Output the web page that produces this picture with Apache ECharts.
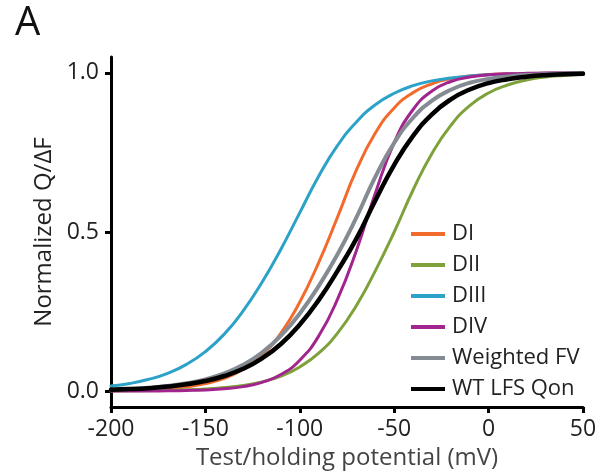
<!DOCTYPE html>
<html>
<head>
<meta charset="utf-8">
<script src="https://cdn.jsdelivr.net/npm/echarts@6/dist/echarts.min.js"></script>
<style>
  html, body { margin: 0; padding: 0; background: #fff; }
  #chart { width: 604px; height: 472px; }
</style>
</head>
<body>
<div id="chart"></div>
<script>
// Membrane potential (mV), sampled every 10 mV
const voltages = [-200, -190, -180, -170, -160, -150, -140, -130, -120, -110, -100, -90, -80,
                  -70, -60, -50, -40, -30, -20, -10, 0, 10, 20, 30, 40, 50];

// Normalized Q/ΔF at each voltage
const dI = [0.0015, 0.0026, 0.0045, 0.0079, 0.0137, 0.0236, 0.0404, 0.0684, 0.1135, 0.182, 0.280, 0.404,
            0.547, 0.695, 0.811, 0.890, 0.938, 0.966, 0.982, 0.990, 0.995, 0.997, 0.9985, 0.9992, 0.9996, 0.9998];
const dII = [0.0006, 0.0009, 0.0015, 0.0025, 0.0041, 0.0067, 0.011, 0.018, 0.029, 0.047, 0.076, 0.119, 0.182,
             0.269, 0.378, 0.5, 0.632, 0.747, 0.835, 0.897, 0.937, 0.962, 0.978, 0.987, 0.992, 0.9955];
const dIII = [0.016, 0.024, 0.037, 0.056, 0.084, 0.124, 0.179, 0.252, 0.342, 0.446, 0.561, 0.675, 0.772,
              0.846, 0.900, 0.936, 0.960, 0.975, 0.984, 0.990, 0.994, 0.996, 0.998, 0.9986, 0.9992, 0.9995];
const dIV = [0.0001, 0.0003, 0.0005, 0.001, 0.002, 0.0038, 0.0074, 0.014, 0.0275, 0.052, 0.097, 0.173, 0.289,
             0.442, 0.622, 0.781, 0.885, 0.943, 0.973, 0.987, 0.994, 0.997, 0.9987, 0.9994, 0.9997, 0.9999];
const weightedFV = [0.0046, 0.0069, 0.0106, 0.0161, 0.0245, 0.037, 0.0555, 0.0825, 0.121, 0.174, 0.244, 0.330, 0.430,
                    0.546, 0.673, 0.780, 0.859, 0.913, 0.947, 0.969, 0.981, 0.989, 0.994, 0.996, 0.998, 0.9987];
const wtLfsQon = [0.0041, 0.0062, 0.0093, 0.0141, 0.0212, 0.0318, 0.0474, 0.070, 0.103, 0.148, 0.209, 0.286, 0.378,
                  0.479, 0.599, 0.711, 0.802, 0.870, 0.917, 0.948, 0.968, 0.980, 0.988, 0.993, 0.9955, 0.9973];

const xTicks = [-200, -150, -100, -50, 0, 50];
const yTicks = [0, 0.5, 1.0];

const seriesDefs = [
  { name: 'DI', values: dI, color: '#F26B2D', width: 3 },
  { name: 'DII', values: dII, color: '#7EA13B', width: 3 },
  { name: 'DIII', values: dIII, color: '#2CA2C8', width: 3 },
  { name: 'DIV', values: dIV, color: '#A2248E', width: 3 },
  { name: 'Weighted FV', values: weightedFV, color: '#858B92', width: 4 },
  { name: 'WT LFS Qon', values: wtLfsQon, color: '#000000', width: 4.5 }
];

const FONT = 'Open Sans';

const chart = echarts.init(document.getElementById('chart'), null, { renderer: 'canvas' });

chart.setOption({
  animation: false,
  backgroundColor: '#ffffff',
  title: {
    text: 'A',
    left: 10,
    top: -1,
    textStyle: { fontFamily: FONT, fontSize: 40, fontWeight: 'normal', color: '#111' }
  },
  grid: { left: 111, right: 21, top: 57, bottom: 65, containLabel: false, outerBoundsMode: 'none' },
  legend: {
    orient: 'vertical',
    left: 406,
    top: 218,
    icon: 'rect',
    itemWidth: 34,
    itemHeight: 4,
    itemGap: 9,
    textStyle: { fontFamily: FONT, fontSize: 22, color: '#222', lineHeight: 20, padding: [0, 0, 0, 2] },
    data: seriesDefs.map(s => s.name)
  },
  xAxis: {
    type: 'value',
    min: -200,
    max: 50,
    interval: 50,
    name: 'Test/holding potential (mV)',
    nameLocation: 'middle',
    nameGap: 35,
    nameTextStyle: { fontFamily: FONT, fontSize: 24, color: '#444' },
    axisLine: { show: true, onZero: false, lineStyle: { color: '#000', width: 3 } },
    axisTick: { show: true, length: 6, lineStyle: { color: '#000', width: 3 }, customValues: xTicks },
    axisLabel: { fontFamily: FONT, fontSize: 23, color: '#222', margin: 11, customValues: xTicks },
    splitLine: { show: false }
  },
  yAxis: {
    type: 'value',
    min: -0.05,
    max: 1.05,
    name: 'Normalized Q/ΔF',
    nameLocation: 'middle',
    nameGap: 55,
    nameTextStyle: { fontFamily: FONT, fontSize: 24, color: '#222' },
    axisLine: { show: true, onZero: false, lineStyle: { color: '#000', width: 3 } },
    axisTick: { show: true, length: 6, lineStyle: { color: '#000', width: 3 }, customValues: yTicks },
    axisLabel: {
      fontFamily: FONT, fontSize: 23, color: '#222', margin: 12,
      customValues: yTicks,
      formatter: v => v.toFixed(1)
    },
    splitLine: { show: false }
  },
  series: seriesDefs.map(s => ({
    name: s.name,
    type: 'line',
    data: voltages.map((v, i) => [v, s.values[i]]),
    smooth: 0.5,
    showSymbol: false,
    symbol: 'none',
    color: s.color,
    lineStyle: { color: s.color, width: s.width, cap: 'round', join: 'round' },
    itemStyle: { color: s.color },
    emphasis: { disabled: true }
  }))
});
</script>
</body>
</html>
